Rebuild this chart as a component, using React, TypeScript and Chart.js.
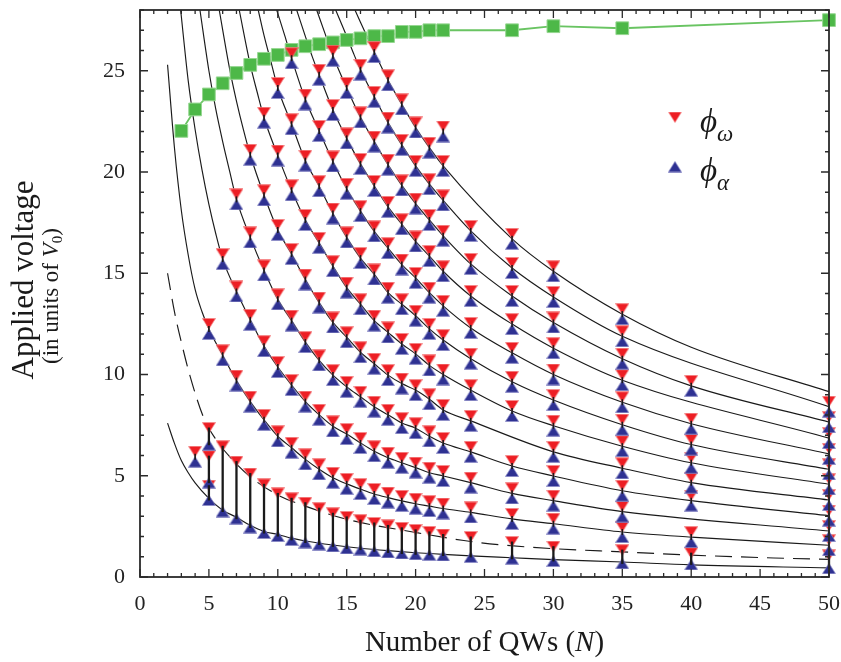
import { useEffect, useRef } from "react";
import { Chart, registerables } from "chart.js";

Chart.register(...registerables);

type P = [number, number];

// ---------- axis ticks ----------
const xTickValues = [0, 5, 10, 15, 20, 25, 30, 35, 40, 45, 50];
const yTickValues = [0, 5, 10, 15, 20, 25];

// ---------- green squares ----------
const greenN = [3, 4, 5, 6, 7, 8, 9, 10, 11, 12, 13, 14, 15, 16, 17, 18, 19, 20, 21, 22, 27, 30, 35, 50];
const greenV = [22.03, 23.09, 23.83, 24.38, 24.89, 25.29, 25.59, 25.78, 26.03, 26.21, 26.31, 26.4, 26.52, 26.6, 26.71, 26.71, 26.92, 26.92, 27.0, 27.0, 27.0, 27.2, 27.1, 27.5];

// ---------- lowest solid curve and dashed curve ----------
const bottomCurve: P[] = [[2, 7.6], [2.5, 6.6], [3, 5.75], [3.5, 5.15], [4, 4.65], [5, 3.88], [6, 3.3], [7, 2.95], [8, 2.55], [9, 2.25], [10, 2.1], [11, 1.92], [12, 1.78], [14, 1.58], [16, 1.42], [18, 1.3], [20, 1.2], [22, 1.12], [24, 1.04], [27, 0.95], [30, 0.86], [35, 0.74], [40, 0.6], [50, 0.45]];
const dashedCurve: P[] = [[2, 15.0], [2.5, 13.1], [3, 11.6], [3.6, 10.0], [4.6, 7.9], [5.5, 6.8], [6.5, 5.95], [8, 4.95], [10, 4.05], [12, 3.5], [15, 2.85], [20, 2.2], [23.5, 1.8], [26, 1.6], [30, 1.4], [35, 1.24], [40, 1.08], [46, 0.94], [50, 0.87]];

// ---------- solid curves: unmarked parts (head / tail) and marked points ----------
const k1Head: P[] = [[2, 25.3], [2.5, 21.2], [3, 18.1], [3.5, 15.9], [4, 14.2], [4.5, 13.1]];
const k1Marks: P[] = [[5, 12.25], [6, 10.95], [7, 9.7], [8, 8.66], [9, 7.76], [10, 6.95], [11, 6.38], [12, 5.81], [13, 5.32], [14, 4.9], [15, 4.6], [16, 4.34], [17, 4.1], [18, 3.92], [19, 3.76], [20, 3.62], [21, 3.5], [22, 3.38], [24, 3.19], [27, 2.87], [30, 2.63], [35, 2.22], [40, 1.97], [50, 1.57]];

const k2Head: P[] = [[2.95, 28], [3.5, 24.5], [4, 22.1], [4.5, 20.1], [5, 18.4], [5.5, 16.95]];
const k2Marks: P[] = [[6, 15.7], [7, 14.1], [8, 12.7], [9, 11.4], [10, 10.37], [11, 9.48], [12, 8.66], [13, 8.01], [14, 7.44], [15, 7.06], [16, 6.62], [17, 6.21], [18, 5.89], [19, 5.64], [20, 5.4], [21, 5.15], [22, 4.99], [24, 4.66], [27, 4.13], [30, 3.77], [35, 3.23], [50, 2.27]];

const k3Head: P[] = [[4.35, 28], [5, 25.0], [5.5, 23.1], [6, 21.5], [6.5, 20.05]];
const k3Marks: P[] = [[7, 18.65], [8, 16.77], [9, 15.14], [10, 13.71], [11, 12.66], [12, 11.6], [13, 10.7], [14, 9.97], [15, 9.39], [16, 8.9], [17, 8.41], [18, 8.01], [19, 7.6], [20, 7.35], [21, 6.95], [22, 6.62], [24, 6.18], [27, 5.48], [30, 4.99], [35, 4.26], [40, 3.77], [50, 3.03]];

const k4Head: P[] = [[5.75, 28], [6.5, 25.1], [7, 23.5], [7.5, 22.1]];
const k4Marks: P[] = [[8, 20.85], [9, 18.85], [10, 17.14], [11, 15.95], [12, 14.69], [13, 13.55], [14, 12.57], [15, 11.84], [16, 11.1], [17, 10.53], [18, 9.97], [19, 9.55], [20, 9.23], [21, 8.78], [22, 8.25], [24, 7.71], [30, 6.18], [35, 5.37], [40, 4.66], [50, 3.8]];

const k5Head: P[] = [[7.2, 28], [8, 25.3], [8.5, 23.95]];
const k5Marks: P[] = [[9, 22.68], [10, 20.81], [11, 19.1], [12, 17.63], [13, 16.5], [14, 15.35], [15, 14.29], [16, 13.47], [17, 12.66], [18, 12.08], [19, 11.51], [20, 11.02], [21, 10.45], [22, 10.0], [24, 9.23], [27, 8.2], [30, 7.47], [35, 6.46], [40, 5.64], [50, 4.58]];

const k6Head: P[] = [[8.58, 28], [9, 26.75], [9.5, 25.45]];
const k6Marks: P[] = [[10, 24.15], [11, 22.36], [12, 20.56], [13, 19.3], [14, 17.95], [15, 16.77], [16, 15.75], [17, 14.94], [18, 14.04], [19, 13.47], [20, 12.9], [21, 12.25], [22, 11.7], [24, 10.78], [27, 9.64], [30, 8.74], [35, 7.52], [40, 6.54], [50, 5.32]];

const k7Head: P[] = [[9.92, 28], [10.5, 26.75]];
const k7Marks: P[] = [[11, 25.62], [12, 23.58], [13, 22.03], [14, 20.52], [15, 19.17], [16, 18.07], [17, 17.07], [18, 16.24], [19, 15.43], [20, 14.77], [21, 14.04], [22, 13.39], [24, 12.3], [27, 11.07], [30, 10.0], [35, 8.63], [40, 7.57], [50, 6.08]];

const k8Head: P[] = [[11.37, 28], [12, 26.7], [12.5, 25.7]];
const k8Marks: P[] = [[13, 24.8], [14, 23.06], [15, 21.66], [16, 20.4], [17, 19.31], [18, 18.28], [19, 17.42], [20, 16.57], [21, 15.85], [22, 15.1], [24, 13.88], [27, 12.49], [30, 11.3], [35, 9.72], [50, 6.86]];

const k9Head: P[] = [[12.82, 28], [13.5, 26.7]];
const k9Marks: P[] = [[14, 25.74], [15, 24.15], [16, 22.7], [17, 21.5], [18, 20.36], [19, 19.34], [20, 18.44], [21, 17.63], [22, 16.85], [24, 15.46], [27, 13.88], [30, 12.57], [35, 10.78], [40, 9.44], [50, 7.65]];

const k10Head: P[] = [[14.2, 28], [15, 26.7], [15.5, 25.85]];
const k10Marks: P[] = [[16, 25.05], [17, 23.71], [18, 22.44], [19, 21.34], [20, 20.3], [21, 19.4], [22, 18.6], [24, 17.09], [27, 15.26], [30, 13.83], [35, 11.89], [50, 8.41]];

const k11Head: P[] = [[15.6, 28], [16, 27.4], [16.5, 26.65], [40, 11.35], [50, 9.15]];
const k11Marks: P[] = [[17, 25.92], [18, 24.53], [19, 23.34], [20, 22.2], [21, 21.2], [22, 20.3], [27, 16.7], [30, 15.1], [35, 12.98]];

// ---------- isolated hourglasses ----------
const soloN = [4, 22];
const soloV = [5.94, 22.0];

// ---------- split pairs (red on top, blue below, joined by a bar) ----------
const pairN = [5, 5, 5, 6, 7, 8, 9, 10, 11, 12, 13, 14, 15, 16, 17, 18, 19, 20, 21, 22, 24, 27, 30, 35, 40, 50];
const pairRed = [7.11, 5.72, 4.26, 6.21, 5.45, 4.86, 4.33, 3.88, 3.64, 3.42, 3.15, 2.9, 2.72, 2.56, 2.42, 2.3, 2.18, 2.08, 1.98, 1.85, 1.73, 1.48, 1.25, 1.08, 0.93, 0.82];
const pairBlue = [6.78, 4.91, 4.05, 3.48, 3.13, 2.69, 2.42, 2.27, 2.08, 1.95, 1.85, 1.76, 1.66, 1.6, 1.52, 1.46, 1.41, 1.37, 1.34, 1.31, 1.24, 1.15, 1.04, 0.92, 0.87, 0.68];

// ---------- styles ----------
const RED = "rgb(237,30,36)";
const BLUE = "rgb(46,49,146)";
const GREEN = "rgb(77,184,72)";
const GREEN_EDGE = "rgb(150,215,145)";
const GREEN_LINE = "rgb(105,196,98)";
const INK = "#1a1a1a";
const SERIF = "'Liberation Serif','Times New Roman','DejaVu Serif',serif";

const curveSets: { head: P[]; marks: P[] }[] = [
  { head: k1Head, marks: k1Marks },
  { head: k2Head, marks: k2Marks },
  { head: k3Head, marks: k3Marks },
  { head: k4Head, marks: k4Marks },
  { head: k5Head, marks: k5Marks },
  { head: k6Head, marks: k6Marks },
  { head: k7Head, marks: k7Marks },
  { head: k8Head, marks: k8Marks },
  { head: k9Head, marks: k9Marks },
  { head: k10Head, marks: k10Marks },
  { head: k11Head, marks: k11Marks },
];

const toXY = (pts: P[]) => pts.map(([x, y]) => ({ x, y }));
const sortN = (pts: P[]) => [...pts].sort((a, b) => a[0] - b[0]);

const TRI_W = 14;
const TRI_H = 11;

function makeTri(dir: "up" | "down", color: string, edge: string) {
  const c = document.createElement("canvas");
  c.width = TRI_W;
  c.height = TRI_H * 2;
  const g = c.getContext("2d")!;
  g.fillStyle = color;
  g.strokeStyle = edge;
  g.lineWidth = 0.8;
  g.beginPath();
  if (dir === "down") {
    g.moveTo(0.4, 0.4);
    g.lineTo(TRI_W - 0.4, 0.4);
    g.lineTo(TRI_W / 2, TRI_H);
  } else {
    g.moveTo(TRI_W / 2, TRI_H);
    g.lineTo(TRI_W - 0.4, TRI_H * 2 - 0.4);
    g.lineTo(0.4, TRI_H * 2 - 0.4);
  }
  g.closePath();
  g.fill();
  g.stroke();
  return c;
}

type Run = { t: string; f: string; dy?: number };
function drawRuns(ctx: CanvasRenderingContext2D, runs: Run[], x: number, y: number, align: "center" | "left") {
  let total = 0;
  for (const r of runs) {
    ctx.font = r.f;
    total += ctx.measureText(r.t).width;
  }
  let cx = align === "center" ? x - total / 2 : x;
  ctx.textAlign = "left";
  ctx.textBaseline = "alphabetic";
  for (const r of runs) {
    ctx.font = r.f;
    ctx.fillText(r.t, cx, y + (r.dy || 0));
    cx += ctx.measureText(r.t).width;
  }
}

export default function App() {
  const ref = useRef<HTMLCanvasElement>(null);

  useEffect(() => {
    const canvas = ref.current;
    if (!canvas) return;
    const redImg = makeTri("down", RED, "rgba(245,140,140,0.9)");
    const blueImg = makeTri("up", BLUE, "rgba(140,140,200,0.9)");

    const hourglass: P[] = [];
    curveSets.forEach((c) => c.marks.forEach((p) => hourglass.push(p)));
    soloN.forEach((n, i) => hourglass.push([n, soloV[i]]));

    const redPts: P[] = [...hourglass, ...pairN.map((n, i) => [n, pairRed[i]] as P)];
    const bluePts: P[] = [...hourglass, ...pairN.map((n, i) => [n, pairBlue[i]] as P)];

    const lineDs = (pts: P[], dashed = false) => ({
      data: toXY(sortN(pts)),
      showLine: true,
      borderColor: INK,
      borderWidth: 1.15,
      borderDash: dashed ? [17, 9] : [],
      pointRadius: 0,
      cubicInterpolationMode: "monotone" as const,
      order: 10,
    });

    const decor = {
      id: "decor",
      afterDatasetsDraw(chart: any) {
        const { ctx, scales } = chart;
        const x = scales.x;
        const y = scales.y;
        ctx.save();
        ctx.strokeStyle = INK;
        ctx.lineCap = "butt";
        ctx.lineWidth = 2.3;
        pairN.forEach((n, i) => {
          const px = x.getPixelForValue(n);
          const yr = y.getPixelForValue(pairRed[i]) - 5.5;
          const yb = y.getPixelForValue(pairBlue[i]) + 5.5;
          ctx.beginPath();
          ctx.moveTo(px, yr);
          ctx.lineTo(px, yb);
          ctx.stroke();
        });
        ctx.lineWidth = 1.6;
        hourglass.forEach(([n, v]) => {
          const px = x.getPixelForValue(n);
          const py = y.getPixelForValue(v);
          ctx.beginPath();
          ctx.moveTo(px, py - 3);
          ctx.lineTo(px, py + 3);
          ctx.stroke();
        });
        ctx.restore();
      },
      afterDraw(chart: any) {
        const { ctx, chartArea, scales } = chart;
        const x = scales.x;
        const y = scales.y;
        const { left, right, top, bottom } = chartArea;
        ctx.save();
        // frame
        ctx.strokeStyle = "#2a2a2a";
        ctx.lineWidth = 1.8;
        ctx.strokeRect(left, top, right - left, bottom - top);
        // ticks (inward, all four sides)
        ctx.lineWidth = 1.3;
        for (let i = 0; i <= 50; i++) {
          const px = x.getPixelForValue(i);
          const len = i % 5 === 0 ? 8 : 4;
          ctx.beginPath();
          ctx.moveTo(px, bottom);
          ctx.lineTo(px, bottom - len);
          ctx.moveTo(px, top);
          ctx.lineTo(px, top + len);
          ctx.stroke();
        }
        for (let j = 0; j <= 28; j++) {
          const py = y.getPixelForValue(j);
          const len = j % 5 === 0 ? 8 : 4;
          ctx.beginPath();
          ctx.moveTo(left, py);
          ctx.lineTo(left + len, py);
          ctx.moveTo(right, py);
          ctx.lineTo(right - len, py);
          ctx.stroke();
        }
        // titles
        ctx.fillStyle = "#1a1a1a";
        drawRuns(
          ctx,
          [
            { t: "Number of QWs (", f: `29px ${SERIF}` },
            { t: "N", f: `italic 29px ${SERIF}` },
            { t: ")", f: `29px ${SERIF}` },
          ],
          (left + right) / 2,
          651,
          "center"
        );
        ctx.save();
        ctx.translate(33, 280);
        ctx.rotate(-Math.PI / 2);
        drawRuns(ctx, [{ t: "Applied voltage", f: `31px ${SERIF}` }], 0, 0, "center");
        ctx.restore();
        ctx.save();
        ctx.translate(58, 296);
        ctx.rotate(-Math.PI / 2);
        drawRuns(
          ctx,
          [
            { t: "(in units of ", f: `23px ${SERIF}` },
            { t: "V", f: `italic 23px ${SERIF}` },
            { t: "0", f: `15px ${SERIF}`, dy: 4 },
            { t: ")", f: `23px ${SERIF}` },
          ],
          0,
          0,
          "center"
        );
        ctx.restore();
        // legend
        ctx.drawImage(redImg, 675 - TRI_W / 2, 117 - TRI_H / 2);
        ctx.drawImage(blueImg, 675 - TRI_W / 2, 167 - TRI_H * 1.5);
        drawRuns(
          ctx,
          [
            { t: "ϕ", f: `italic 33px ${SERIF}` },
            { t: "ω", f: `italic 23px ${SERIF}`, dy: 9 },
          ],
          700,
          132,
          "left"
        );
        drawRuns(
          ctx,
          [
            { t: "ϕ", f: `italic 33px ${SERIF}` },
            { t: "α", f: `italic 23px ${SERIF}`, dy: 9 },
          ],
          700,
          181,
          "left"
        );
        ctx.restore();
      },
    };

    const chart = new Chart(canvas, {
      type: "scatter",
      data: {
        datasets: [
          {
            data: toXY(bluePts),
            pointStyle: blueImg as any,
            pointRadius: 6,
            showLine: false,
            clip: false,
            order: 1,
          } as any,
          {
            data: toXY(redPts),
            pointStyle: redImg as any,
            pointRadius: 6,
            showLine: false,
            clip: false,
            order: 2,
          } as any,
          {
            data: greenN.map((n, i) => ({ x: n, y: greenV[i] })),
            showLine: true,
            borderColor: GREEN_LINE,
            borderWidth: 1.8,
            pointStyle: "rect",
            pointRadius: 9,
            pointBackgroundColor: GREEN,
            pointBorderColor: GREEN_EDGE,
            pointBorderWidth: 1,
            clip: false,
            order: 3,
          } as any,
          lineDs(bottomCurve),
          lineDs(dashedCurve, true),
          ...curveSets.map((c) => lineDs([...c.head, ...c.marks])),
        ],
      },
      options: {
        responsive: false,
        animation: false,
        devicePixelRatio: 1,
        events: [],
        layout: { padding: { left: 0, top: 5, right: 12, bottom: 0 } },
        plugins: { legend: { display: false }, tooltip: { enabled: false } },
        scales: {
          x: {
            type: "linear",
            min: 0,
            max: 50,
            afterBuildTicks: (s: any) => {
              s.ticks = xTickValues.map((v) => ({ value: v }));
            },
            afterFit: (s: any) => {
              s.height = 85;
              s.paddingLeft = 0;
              s.paddingRight = 0;
              s.paddingTop = 0;
              s.paddingBottom = 0;
            },
            grid: { display: false, drawTicks: false },
            border: { display: false },
            ticks: {
              font: { family: SERIF, size: 22 },
              color: "#222",
              padding: 14,
              maxRotation: 0,
              autoSkip: false,
            },
          },
          y: {
            type: "linear",
            min: 0,
            max: 28,
            afterBuildTicks: (s: any) => {
              s.ticks = yTickValues.map((v) => ({ value: v }));
            },
            afterFit: (s: any) => {
              s.width = 140;
              s.paddingLeft = 0;
              s.paddingRight = 0;
              s.paddingTop = 0;
              s.paddingBottom = 0;
            },
            grid: { display: false, drawTicks: false },
            border: { display: false },
            ticks: {
              font: { family: SERIF, size: 22 },
              color: "#222",
              padding: 15,
              autoSkip: false,
            },
          },
        },
      } as any,
      plugins: [decor],
    });

    return () => chart.destroy();
  }, []);

  return (
    <div style={{ position: "fixed", left: 0, top: 0, width: 841, height: 662, background: "#fff" }}>
      <canvas ref={ref} width={841} height={662} style={{ display: "block", width: 841, height: 662 }} />
    </div>
  );
}
